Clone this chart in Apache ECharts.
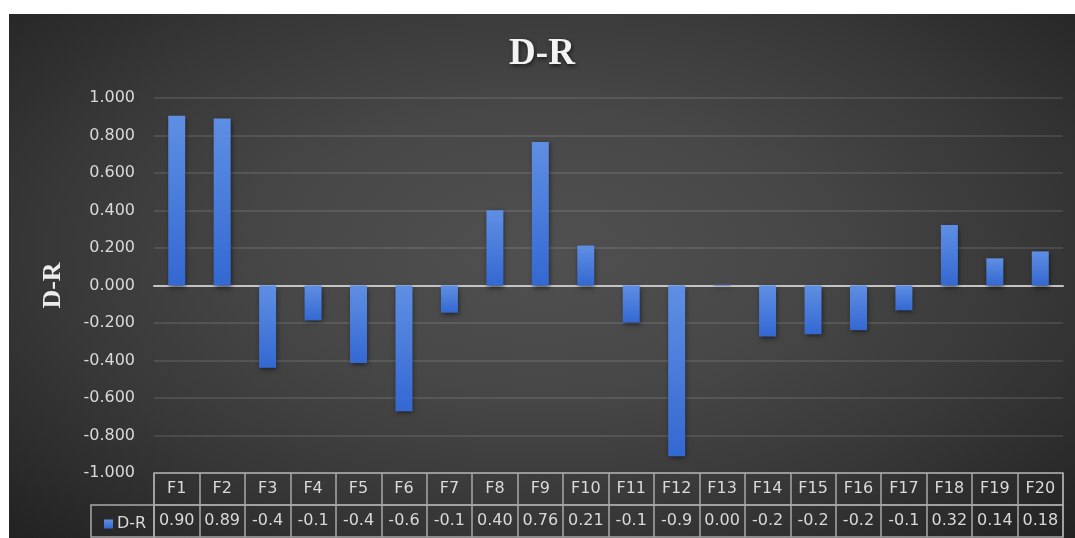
<!DOCTYPE html>
<html>
<head>
<meta charset="utf-8">
<script src="https://cdn.jsdelivr.net/npm/echarts@6/dist/echarts.min.js"></script>
<style>
  html, body { margin: 0; padding: 0; background: #ffffff; }
  #chart {
    position: absolute; left: 9px; top: 14px; width: 1066px; height: 524px;
    background: radial-gradient(ellipse farthest-corner at 50% 45%, #505050 0%, #474747 35%, #383838 65%, #222222 100%);
  }
</style>
</head>
<body>
<div id="chart"></div>
<script>
// Factor names along the bottom of the chart
const categories = ['F1','F2','F3','F4','F5','F6','F7','F8','F9','F10',
                    'F11','F12','F13','F14','F15','F16','F17','F18','F19','F20'];
// D-R value per factor
const drValues = [0.905, 0.891, -0.438, -0.186, -0.413, -0.670, -0.145, 0.401, 0.765, 0.213,
                  -0.198, -0.910, 0.004, -0.272, -0.260, -0.238, -0.132, 0.323, 0.145, 0.182];
// Value axis ticks
const yMin = -1, yMax = 1, yStep = 0.2;

// Data-table cells show the 3-decimal value clipped to four characters
const cellText = v => v.toFixed(3).slice(0, 4);

const textColor = '#d9d9d9';
const tableLine = '#a9a9a9';
const uiFont = 'DejaVu Sans';

const plotLeft = 145, plotRight = 12;

const chart = echarts.init(document.getElementById('chart'), null, { renderer: 'canvas' });

chart.setOption({
  backgroundColor: 'transparent',
  animation: false,
  title: {
    text: 'D-R',
    left: 'center',
    top: 17,
    textStyle: {
      fontFamily: 'Liberation Serif', fontWeight: 'bold', fontSize: 37, color: '#f2f2f2',
      textShadowColor: 'rgba(0,0,0,0.6)', textShadowBlur: 4, textShadowOffsetX: 1, textShadowOffsetY: 2
    }
  },
  legend: {
    left: 90, top: 497,
    icon: 'rect', itemWidth: 9, itemHeight: 9, itemGap: 4,
    textStyle: { color: textColor, fontFamily: uiFont, fontSize: 16, padding: [0, 0, 0, -1] },
    data: ['D-R']
  },
  grid: [
    { left: plotLeft, right: plotRight, top: 84, bottom: 65 },
    { left: plotLeft, right: plotRight, top: 459, height: 32, show: true, borderColor: tableLine, borderWidth: 1.5 },
    { left: plotLeft, right: plotRight, top: 491, height: 32, show: true, borderColor: tableLine, borderWidth: 1.5 },
    { left: 82, width: 63, top: 491, height: 32, show: true, borderColor: tableLine, borderWidth: 1.5 }
  ],
  xAxis: [
    {
      gridIndex: 0, type: 'category', data: categories,
      axisLine: { onZero: true, lineStyle: { color: '#c4c4c4', width: 2 } },
      axisTick: { show: false }, axisLabel: { show: false }, splitLine: { show: false }
    },
    {
      gridIndex: 1, type: 'category', data: categories,
      axisLine: { show: false }, axisTick: { show: false },
      splitLine: { show: true, interval: 0, lineStyle: { color: tableLine, width: 1.5 } },
      axisLabel: { interval: 0, margin: -16, verticalAlign: 'middle', color: textColor, fontFamily: uiFont, fontSize: 16 }
    },
    {
      gridIndex: 2, type: 'category', data: categories,
      axisLine: { show: false }, axisTick: { show: false },
      splitLine: { show: true, interval: 0, lineStyle: { color: tableLine, width: 1.5 } },
      axisLabel: {
        interval: 0, margin: -16, verticalAlign: 'middle', color: textColor, fontFamily: uiFont, fontSize: 16,
        formatter: (val, idx) => cellText(drValues[idx])
      }
    },
    { gridIndex: 3, type: 'category', data: [''], show: false }
  ],
  yAxis: [
    {
      gridIndex: 0, type: 'value', min: yMin, max: yMax, interval: yStep,
      name: 'D-R', nameLocation: 'middle', nameGap: 88, nameRotate: 90,
      nameTextStyle: { fontFamily: 'Liberation Serif', fontWeight: 'bold', fontSize: 26, color: '#ececec' },
      axisLine: { show: false }, axisTick: { show: false },
      axisLabel: { color: textColor, fontFamily: uiFont, fontSize: 16, margin: 19, formatter: v => v.toFixed(3) },
      splitLine: { lineStyle: { color: 'rgba(255,255,255,0.1)', width: 2 } }
    },
    { gridIndex: 1, type: 'value', show: false },
    { gridIndex: 2, type: 'value', show: false },
    { gridIndex: 3, type: 'value', show: false }
  ],
  series: [
    {
      name: 'D-R', type: 'bar', xAxisIndex: 0, yAxisIndex: 0,
      data: drValues, barWidth: 17,
      itemStyle: {
        color: new echarts.graphic.LinearGradient(0, 0, 0, 1, [
          { offset: 0, color: '#5f8fe3' },
          { offset: 1, color: '#3468d2' }
        ]),
        shadowColor: 'rgba(0,0,0,0.55)', shadowBlur: 5, shadowOffsetX: 1, shadowOffsetY: 2
      }
    }
  ]
});
</script>
</body>
</html>
